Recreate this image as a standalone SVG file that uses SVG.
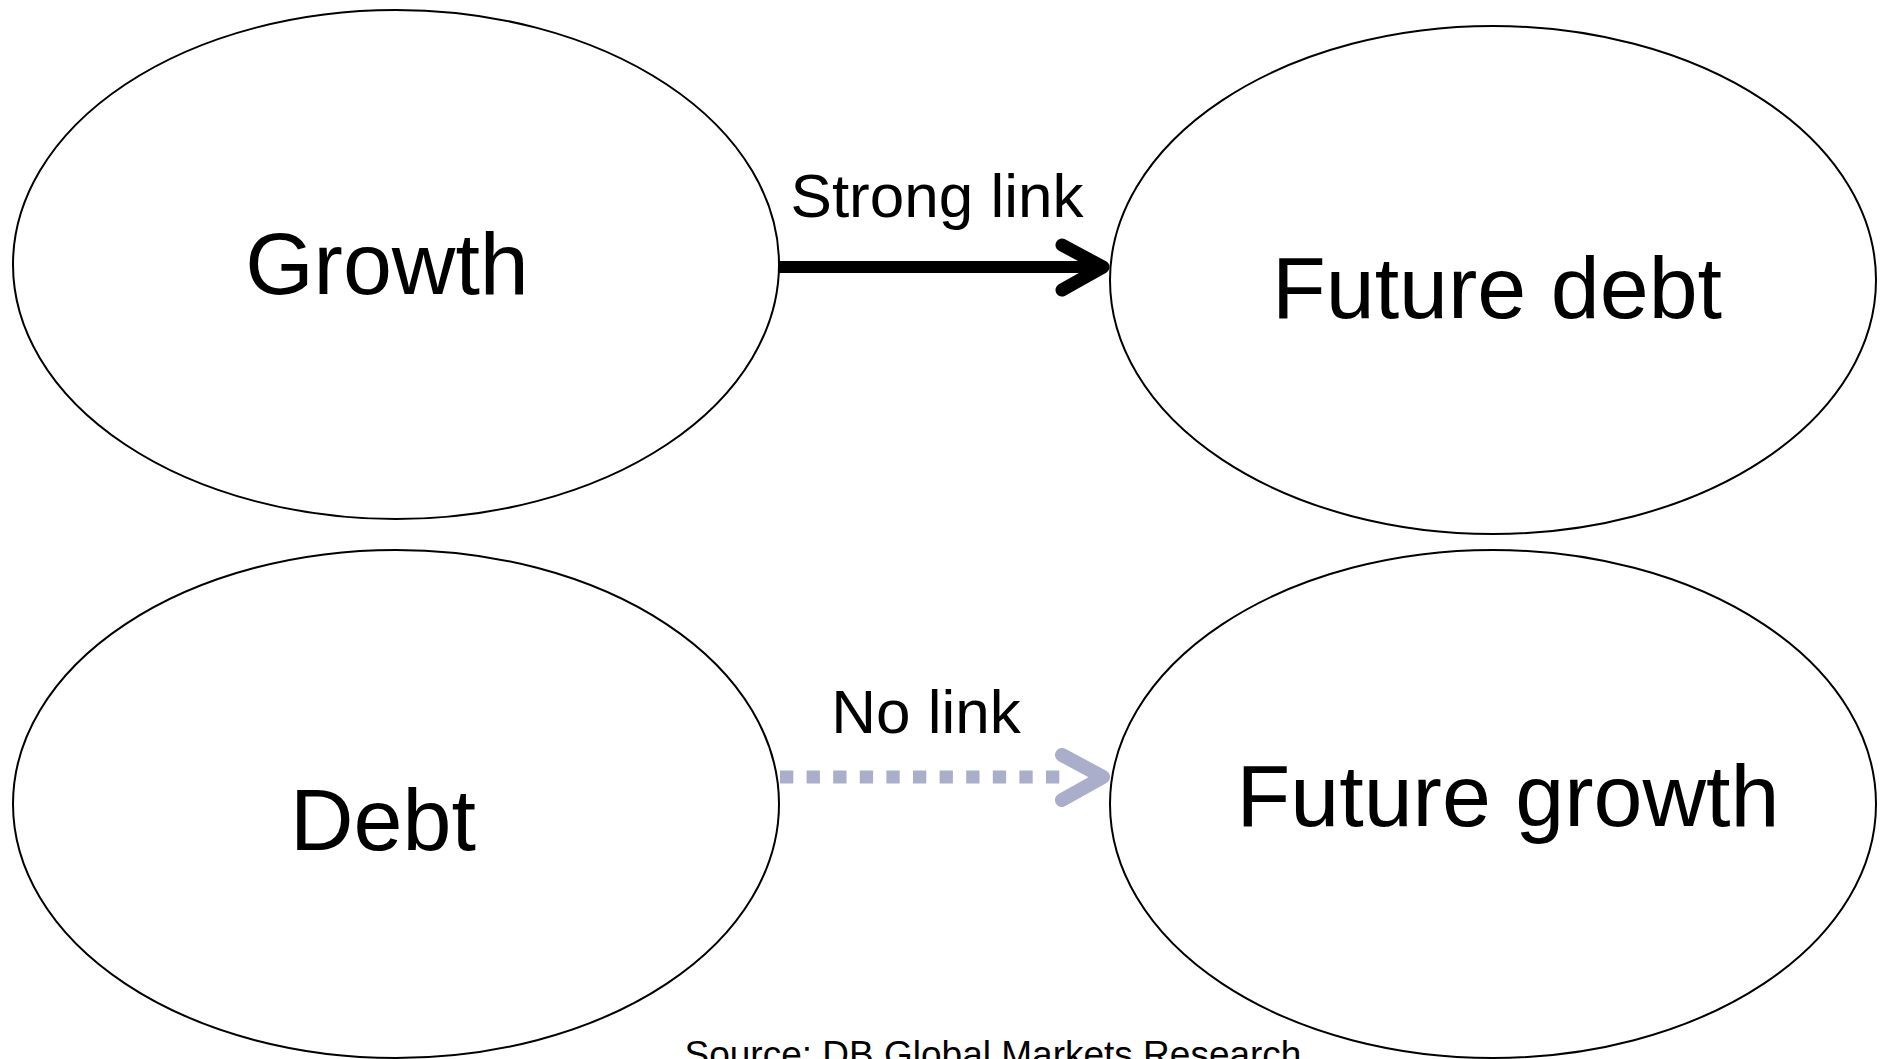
<svg xmlns="http://www.w3.org/2000/svg" width="1883" height="1059" viewBox="0 0 1883 1059">
  <style>
    .node ellipse { fill: #ffffff; stroke: #000000; stroke-width: 2; }
    .label { font-family: "Liberation Sans", Arial, sans-serif; fill: #000000; text-anchor: middle; }
    .big { font-size: 88px; }
    .link { font-size: 62px; }
    .src { font-size: 37px; }
    .strong { fill: none; stroke: #000000; stroke-width: 12; }
    .strong-head { fill: none; stroke: #000000; stroke-width: 13; stroke-linecap: round; stroke-linejoin: round; }
    .weak { fill: none; stroke: #abaeca; stroke-width: 13; }
    .weak-head { fill: none; stroke: #abaeca; stroke-width: 14; stroke-linecap: round; stroke-linejoin: round; }
  </style>
  <rect x="0" y="0" width="1883" height="1059" fill="#ffffff"/>

  <g id="node-growth" class="node">
    <ellipse cx="396" cy="264.5" rx="383" ry="254.5"/>
    <text class="label big" x="387" y="294">Growth</text>
  </g>

  <g id="node-future-debt" class="node">
    <ellipse cx="1493" cy="280" rx="383" ry="254"/>
    <text class="label big" x="1497" y="318">Future debt</text>
  </g>

  <g id="node-debt" class="node">
    <ellipse cx="396" cy="804" rx="383" ry="254"/>
    <text class="label big" x="383" y="850">Debt</text>
  </g>

  <g id="node-future-growth" class="node">
    <ellipse cx="1493" cy="804" rx="383" ry="254"/>
    <text class="label big" x="1508" y="826">Future growth</text>
  </g>

  <g id="connectors">
    <!-- Growth -> Future debt: strong link -->
    <line class="strong" x1="779" y1="267" x2="1100" y2="267"/>
    <polyline class="strong-head" points="1062,245 1103,267 1062,290"/>
    <text class="label link" x="937" y="217">Strong link</text>

    <!-- Debt -> Future growth: no link -->
    <line class="weak" x1="780" y1="777" x2="1060" y2="777" stroke-dasharray="13.3 13.3"/>
    <polyline class="weak-head" points="1062,755 1103,777 1062,800"/>
    <text class="label link" x="926" y="733">No link</text>
  </g>

  <text class="label src" x="993" y="1067">Source: DB Global Markets Research</text>
</svg>
